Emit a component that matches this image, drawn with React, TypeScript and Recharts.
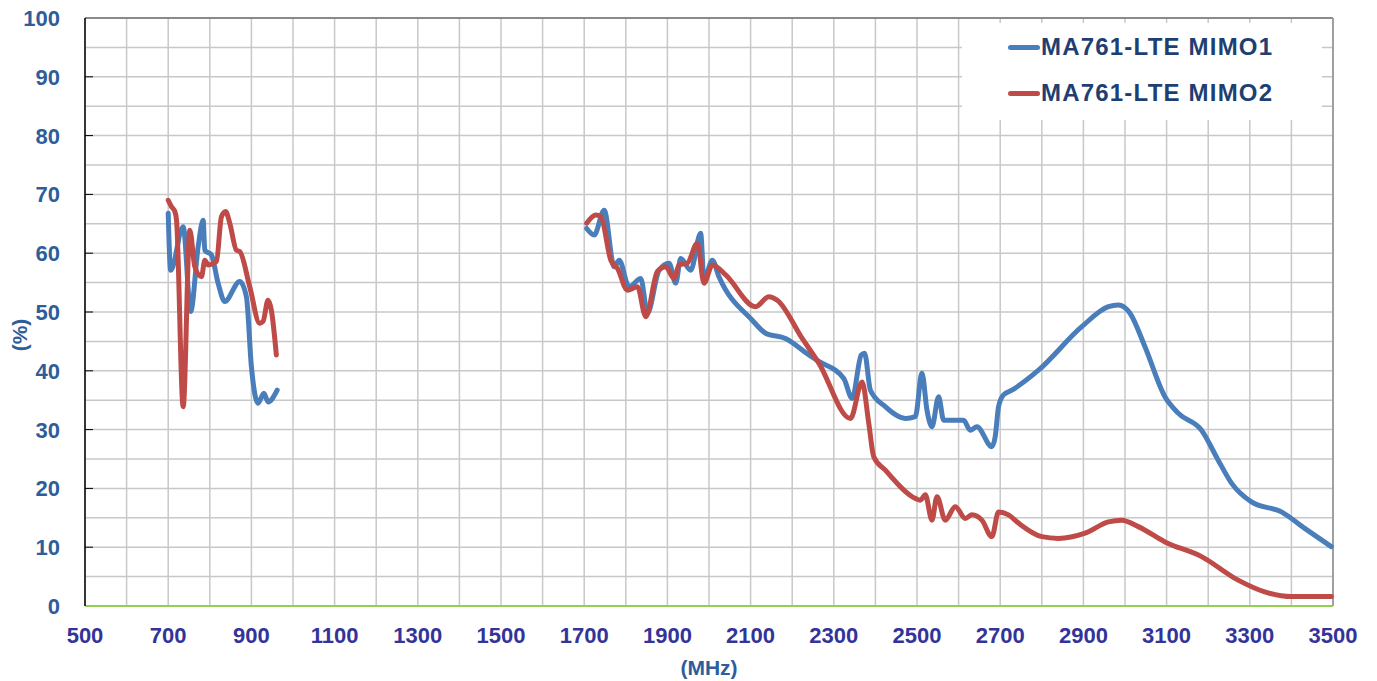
import { CartesianGrid, Label, Line, LineChart, ReferenceLine, XAxis, YAxis } from 'recharts';

// MA761-LTE efficiency (%) vs frequency (MHz)
const mimo1LowFreq = [700, 706, 736, 754, 772, 784, 788, 804, 820, 836, 872, 888, 900, 916, 930, 940, 962];
const mimo1LowPct = [66.8, 57.1, 64.5, 50.1, 61.1, 65.6, 60.5, 59.7, 54.9, 51.8, 55.2, 52.6, 40.7, 34.5, 36.2, 34.7, 36.7];
const mimo1HighFreq = [
   1706, 1724, 1748, 1772, 1784, 1808, 1836, 1852, 1880, 1904, 1920, 1932, 1956, 1980, 1988, 2008, 2024, 2104,
   2136, 2184, 2240, 2264, 2324, 2344, 2366, 2374, 2388, 2424, 2472, 2496, 2512, 2524, 2536, 2552, 2564, 2612,
   2628, 2644, 2680, 2688, 2696, 2708, 2728, 2792, 2896, 2960, 2984, 3012, 3048, 3096, 3128, 3184, 3224, 3256,
   3304, 3376, 3432, 3496,
];
const mimo1HighPct = [
   64.2, 63.1, 67.3, 57.7, 58.8, 54.3, 55.7, 49.8, 57.1, 58.3, 54.9, 59.1, 57.1, 63.4, 55.4, 58.8, 56.0, 48.6,
   46.4, 45.5, 42.7, 41.6, 38.7, 35.3, 42.7, 43.0, 36.7, 33.9, 31.9, 32.2, 39.6, 33.3, 30.5, 35.6, 31.6, 31.6,
   29.9, 30.5, 27.1, 28.8, 33.9, 35.9, 36.7, 40.1, 47.5, 50.9, 51.2, 49.8, 44.1, 35.6, 32.8, 29.9, 24.8, 20.9,
   17.7, 16.0, 13.2, 10.1,
];

const mimo2LowFreq = [700, 708, 716, 720, 736, 752, 764, 780, 788, 796, 816, 828, 838, 848, 864, 872, 896, 920, 928, 940, 948, 960];
const mimo2LowPct = [69.0, 67.9, 67.1, 65.6, 33.9, 63.9, 57.7, 56.0, 58.8, 58.0, 58.6, 66.2, 67.1, 65.1, 60.5, 60.3, 54.3, 48.1, 48.4, 52.0, 50.3, 42.7];
const mimo2HighFreq = [
   1706, 1728, 1740, 1764, 1780, 1804, 1828, 1848, 1876, 1896, 1916, 1928, 1948, 1972, 1988, 2008, 2040, 2112,
   2144, 2164, 2224, 2264, 2340, 2368, 2384, 2396, 2424, 2496, 2508, 2520, 2536, 2548, 2568, 2592, 2616, 2632,
   2656, 2680, 2696, 2720, 2744, 2800, 2840, 2904, 2960, 2992, 3032, 3096, 3184, 3272, 3336, 3400, 3496,
];
const mimo2HighPct = [
   65.1, 66.5, 66.2, 58.8, 57.4, 53.7, 54.3, 49.2, 56.9, 57.7, 55.7, 58.0, 58.3, 61.7, 54.9, 58.0, 56.3, 50.9,
   52.6, 52.0, 45.5, 41.3, 31.9, 38.1, 31.1, 25.4, 23.1, 18.3, 18.0, 18.9, 14.6, 18.6, 14.6, 16.9, 14.9, 15.5,
   14.6, 11.8, 16.0, 15.5, 14.1, 11.8, 11.5, 12.4, 14.3, 14.6, 13.5, 10.9, 8.4, 4.4, 2.4, 1.6, 1.6,
];

const xTicks = Array.from({ length: 31 }, (_, i) => 500 + i * 100);
const yTicks = Array.from({ length: 21 }, (_, i) => i * 5);

const SERIES = [
   { name: 'MA761-LTE MIMO1', color: '#4A7EBB' },
   { name: 'MA761-LTE MIMO2', color: '#BE4B48' },
];

type Pt = { freq: number; pct: number | null };

function band(lowF: number[], lowV: number[], highF: number[], highV: number[]): Pt[] {
   const low = lowF.map((f, i) => ({ freq: f, pct: lowV[i] }));
   const high = highF.map((f, i) => ({ freq: f, pct: highV[i] }));
   return [...low, { freq: 1300, pct: null }, ...high];
}

const mimo1Data = band(mimo1LowFreq, mimo1LowPct, mimo1HighFreq, mimo1HighPct);
const mimo2Data = band(mimo2LowFreq, mimo2LowPct, mimo2HighFreq, mimo2HighPct);

const FONT = '"Liberation Sans", Arial, sans-serif';

function YTick(props: any) {
   const { x, y, payload } = props;
   const v = payload.value as number;
   if (v % 10 !== 0) return null;
   return (
      <g>
         {v > 0 && v < 100 && <line x1={x + 25} x2={x + 33} y1={y} y2={y} stroke="#000" strokeWidth={1} />}
         <text x={x} y={y} dy="0.36em" textAnchor="end" fill="#2E5D9A" fontFamily={FONT} fontWeight="bold" fontSize={22}>
            {v}
         </text>
      </g>
   );
}

function XTick(props: any) {
   const { x, y, payload } = props;
   const v = payload.value as number;
   if ((v - 500) % 200 !== 0) return null;
   return (
      <text x={x} y={y} dy="0.71em" textAnchor="middle" fill="#33339A" fontFamily={FONT} fontWeight="bold" fontSize={22}>
         {v}
      </text>
   );
}

function LegendBox() {
   return (
      <div
         style={{
            position: 'absolute',
            left: 962,
            top: 23,
            width: 360,
            height: 97,
            background: '#fff',
            paddingTop: 1,
            boxSizing: 'border-box',
         }}
      >
         {SERIES.map((s) => (
            <div key={s.name} style={{ display: 'flex', alignItems: 'center', height: 46, paddingLeft: 46 }}>
               <span style={{ display: 'inline-block', width: 32, height: 5, borderRadius: 3, background: s.color }} />
               <span style={{ fontFamily: FONT, fontWeight: 'bold', fontSize: 24, color: '#1F3F73', letterSpacing: 1.2, marginLeft: 1 }}>
                  {s.name}
               </span>
            </div>
         ))}
      </div>
   );
}

export default function App() {
   return (
      <div style={{ position: 'absolute', left: 0, top: 0, width: 1377, height: 681, background: '#fff' }}>
         <LineChart width={1377} height={681} margin={{ top: 18, right: 44, bottom: 0, left: 0 }}>
            <CartesianGrid stroke="#C8C8C8" strokeWidth={1.5} />
            <XAxis
               dataKey="freq"
               type="number"
               domain={[500, 3500]}
               ticks={xTicks}
               interval={0}
               allowDuplicatedCategory={false}
               height={75}
               tickSize={0}
               tickMargin={21}
               tick={<XTick />}
               axisLine={{ stroke: '#92D050', strokeWidth: 2 }}
            >
               <Label
                  value="(MHz)"
                  position="insideBottom"
                  offset={6}
                  style={{ fontFamily: FONT, fontWeight: 'bold', fontSize: 21, fill: '#2F5C9A' }}
               />
            </XAxis>
            <YAxis
               type="number"
               domain={[0, 100]}
               ticks={yTicks}
               interval={0}
               width={85}
               tickSize={0}
               tickMargin={25}
               tick={<YTick />}
               axisLine={{ stroke: '#000', strokeWidth: 1.5 }}
            >
               <Label
                  value="(%)"
                  angle={-90}
                  position="insideLeft"
                  offset={20}
                  dy={23}
                  style={{ fontFamily: FONT, fontWeight: 'bold', fontSize: 21, fill: '#2F5C9A', textAnchor: 'middle' }}
               />
            </YAxis>
            <ReferenceLine y={100} stroke="#707070" strokeWidth={1.5} />
            <ReferenceLine x={3500} stroke="#A0A0A0" strokeWidth={2} />
            {[mimo1Data, mimo2Data].map((d, i) => (
               <Line
                  key={SERIES[i].name}
                  data={d}
                  dataKey="pct"
                  name={SERIES[i].name}
                  type="monotone"
                  stroke={SERIES[i].color}
                  strokeWidth={5}
                  strokeLinejoin="round"
                  strokeLinecap="round"
                  dot={false}
                  activeDot={false}
                  connectNulls={false}
                  isAnimationActive={false}
               />
            ))}
         </LineChart>
         <LegendBox />
      </div>
   );
}
